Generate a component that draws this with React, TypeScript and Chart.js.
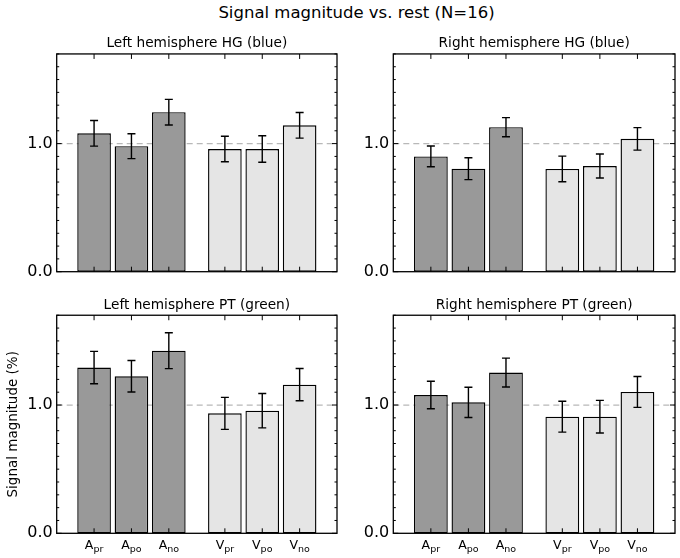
import { useEffect, useRef } from 'react';
import { Chart, registerables } from 'chart.js';

Chart.register(...registerables);

const FONT = '"DejaVu Sans", sans-serif';

// categories: letter + subscript, placed at these x positions
const letters = ['A', 'A', 'A', 'V', 'V', 'V'];
const subs = ['pr', 'po', 'no', 'pr', 'po', 'no'];
const xPos = [1, 2, 3, 4.5, 5.5, 6.5];
const yTickValues = [0, 1];

const leftHGValues = [1.08, 0.98, 1.245, 0.958, 0.958, 1.143];
const leftHGErrors = [0.1, 0.097, 0.1, 0.1, 0.103, 0.1];
const rightHGValues = [0.9, 0.804, 1.128, 0.802, 0.825, 1.037];
const rightHGErrors = [0.081, 0.085, 0.075, 0.1, 0.094, 0.088];
const leftPTValues = [1.292, 1.224, 1.424, 0.935, 0.956, 1.159];
const leftPTErrors = [0.126, 0.123, 0.14, 0.125, 0.134, 0.126];
const rightPTValues = [1.078, 1.021, 1.253, 0.909, 0.909, 1.102];
const rightPTErrors = [0.107, 0.118, 0.113, 0.12, 0.127, 0.12];

interface PanelProps {
  title: string;
  values: number[];
  errors: number[];
  left: number;
  top: number;
  width: number;
  height: number;
  axisWidth: number;
  padTop: number;
  padRight: number;
  padBottom: number;
  xLabels?: boolean;
  yTitle?: string;
}

const Panel = ({ title, values, errors, left, top, width, height, axisWidth, padTop, padRight, padBottom, xLabels, yTitle }: PanelProps) => {
  const canvasRef = useRef<HTMLCanvasElement>(null);

  useEffect(() => {
    if (!canvasRef.current) return;
    const ctx = canvasRef.current.getContext('2d');
    if (!ctx) return;

    const panelPlugin = {
      id: 'panelDecor',
      beforeDatasetsDraw(chart: any) {
        const { ctx: c, chartArea: a, scales } = chart;
        const y1 = scales.y.getPixelForValue(1);
        c.save();
        c.strokeStyle = '#b8b8b8';
        c.lineWidth = 1.2;
        c.setLineDash([6, 4]);
        c.beginPath();
        c.moveTo(a.left, y1);
        c.lineTo(a.right, y1);
        c.stroke();
        c.restore();
      },
      afterDatasetsDraw(chart: any) {
        const { ctx: c, scales } = chart;
        c.save();
        c.strokeStyle = '#000';
        c.lineWidth = 1.4;
        values.forEach((v, i) => {
          const x = scales.x.getPixelForValue(xPos[i]);
          const yt = scales.y.getPixelForValue(v + errors[i]);
          const yb = scales.y.getPixelForValue(v - errors[i]);
          c.beginPath();
          c.moveTo(x, yt);
          c.lineTo(x, yb);
          c.moveTo(x - 4, yt);
          c.lineTo(x + 4, yt);
          c.moveTo(x - 4, yb);
          c.lineTo(x + 4, yb);
          c.stroke();
        });
        c.restore();
      },
      afterDraw(chart: any) {
        const { ctx: c, chartArea: a, scales } = chart;
        c.save();
        c.strokeStyle = '#000';
        c.lineWidth = 1.3;
        c.strokeRect(a.left, a.top, a.right - a.left, a.bottom - a.top);
        c.lineWidth = 1;
        c.beginPath();
        for (let k = 0; k <= 17; k++) {
          const y = scales.y.getPixelForValue(k / 10);
          const len = k % 10 === 0 ? 5 : 2.5;
          c.moveTo(a.left, y);
          c.lineTo(a.left + len, y);
          c.moveTo(a.right, y);
          c.lineTo(a.right - len, y);
        }
        xPos.forEach(v => {
          const x = scales.x.getPixelForValue(v);
          c.moveTo(x, a.bottom);
          c.lineTo(x, a.bottom - 5);
          c.moveTo(x, a.top);
          c.lineTo(x, a.top + 5);
        });
        c.stroke();
        if (xLabels) {
          c.fillStyle = '#000';
          c.textBaseline = 'alphabetic';
          c.textAlign = 'left';
          const mainFont = `12.5px ${FONT}`;
          const subFont = `9.5px ${FONT}`;
          letters.forEach((l, i) => {
            const x = scales.x.getPixelForValue(xPos[i]);
            c.font = mainFont;
            const w1 = c.measureText(l).width;
            c.font = subFont;
            const w2 = c.measureText(subs[i]).width;
            const x0 = x - (w1 + w2) / 2;
            const base = a.bottom + 15.5;
            c.font = mainFont;
            c.fillText(l, x0, base);
            c.font = subFont;
            c.fillText(subs[i], x0 + w1, base + 3.5);
          });
        }
        c.restore();
      }
    };

    const chart = new Chart(ctx, {
      type: 'bar',
      data: {
        datasets: [
          {
            data: xPos.map((x, i) => ({ x, y: values[i] })),
            backgroundColor: letters.map(l => (l === 'A' ? '#999999' : '#e5e5e5')),
            borderColor: '#000000',
            borderWidth: 1.4,
            borderSkipped: false,
            barPercentage: 0.9,
            categoryPercentage: 1
          }
        ]
      },
      options: {
        responsive: false,
        animation: false,
        events: [],
        layout: { padding: { left: 0, right: padRight, top: padTop, bottom: padBottom } },
        plugins: {
          legend: { display: false },
          tooltip: { enabled: false },
          title: {
            display: true,
            text: title,
            fullSize: false,
            color: '#000',
            font: { family: FONT, size: 13.7, weight: 'normal' },
            padding: { top: 0, bottom: 2 }
          }
        },
        scales: {
          x: {
            type: 'linear',
            min: 0,
            max: 7.5,
            offset: false,
            display: false,
            afterBuildTicks: (s: any) => {
              s.ticks = xPos.map(v => ({ value: v }));
            }
          },
          y: {
            min: 0,
            max: 1.7,
            afterBuildTicks: (s: any) => {
              s.ticks = yTickValues.map(v => ({ value: v }));
            },
            afterFit: (s: any) => {
              s.width = axisWidth;
            },
            grid: { display: false, drawTicks: false },
            border: { display: false },
            ticks: {
              color: '#000',
              padding: 4,
              font: { family: FONT, size: 16 },
              callback: (v: any) => Number(v).toFixed(1)
            },
            title: {
              display: !!yTitle,
              text: yTitle || '',
              color: '#000',
              font: { family: FONT, size: 13.5 },
              padding: { top: 5.2, bottom: 0 }
            }
          }
        }
      } as any,
      plugins: [panelPlugin]
    });

    return () => {
      chart.destroy();
    };
  }, [title, values, errors, axisWidth, padTop, padRight, padBottom, xLabels, yTitle]);

  return (
    <canvas
      ref={canvasRef}
      width={width}
      height={height}
      style={{ position: 'absolute', left, top, width, height }}
    />
  );
};

const App = () => {
  return (
    <div style={{ position: 'absolute', left: 0, top: 0, width: 680, height: 558, background: '#fff', overflow: 'hidden' }}>
      <div
        style={{
          position: 'absolute',
          left: 356.5,
          top: 5.3,
          transform: 'translateX(-50%)',
          fontFamily: FONT,
          fontSize: 16.5,
          lineHeight: 1,
          whiteSpace: 'nowrap',
          color: '#000'
        }}
      >
        Signal magnitude vs. rest (N=16)
      </div>
      <Panel title="Left hemisphere HG (blue)" values={leftHGValues} errors={leftHGErrors}
        left={0} top={0} width={340} height={292} axisWidth={56.7} padTop={35.5} padRight={3} padBottom={20.3} />
      <Panel title="Right hemisphere HG (blue)" values={rightHGValues} errors={rightHGErrors}
        left={340} top={0} width={340} height={292} axisWidth={53.3} padTop={35.5} padRight={5} padBottom={20.3} />
      <Panel title="Left hemisphere PT (green)" values={leftPTValues} errors={leftPTErrors}
        left={0} top={280} width={340} height={278} axisWidth={56.7} padTop={16.8} padRight={3} padBottom={24.7}
        xLabels yTitle="Signal magnitude (%)" />
      <Panel title="Right hemisphere PT (green)" values={rightPTValues} errors={rightPTErrors}
        left={340} top={280} width={340} height={278} axisWidth={53.3} padTop={16.8} padRight={5} padBottom={24.7}
        xLabels />
    </div>
  );
};

export default App;
